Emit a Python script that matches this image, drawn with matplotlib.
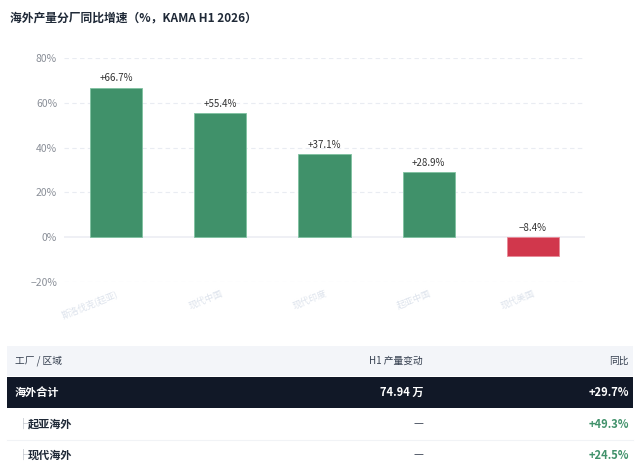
import numpy as np
import matplotlib.pyplot as plt
from matplotlib.patches import Rectangle

plt.rcParams['font.family'] = ['Noto Sans CJK SC', 'DejaVu Sans']

# data
factories = ['斯洛伐克(起亚)', '现代中国', '现代印度', '起亚中国', '现代美国']
growth = [66.7, 55.4, 37.1, 28.9, -8.4]
yticks = [-20, 0, 20, 40, 60, 80]

table_header = ['工厂 / 区域', 'H1 产量变动', '同比']
total_row = ['海外合计', '74.94 万', '+29.7%']
sub_rows = [['├ 起亚海外', '—', '+49.3%'],
            ['├ 现代海外', '—', '+24.5%']]

green = '#40916a'
red = '#d1374c'

fig = plt.figure(figsize=(6.4, 4.71), dpi=100)
W, H = 640, 471

def fx(px):
    return px / W

def fy(py):
    return 1 - py / H

fig.text(fx(10), fy(18), '海外产量分厂同比增速（%，KAMA H1 2026）',
         fontsize=8.5, fontweight='bold', color='#1f2937', va='center')

ax = fig.add_axes([fx(64), fy(282), fx(585) - fx(64), fy(58) - fy(282)])
x = np.arange(len(factories))
colors = [green if v >= 0 else red for v in growth]
ax.bar(x, growth, width=0.5, color=colors, edgecolor=['#7fc2a0' if v >= 0 else '#e88a97' for v in growth],
       linewidth=0.6, zorder=3)
for xi, v in zip(x, growth):
    lab = f'+{v:.1f}%' if v >= 0 else f'−{abs(v):.1f}%'
    ax.text(xi, max(v, 0) + 2.0, lab, ha='center', va='bottom', fontsize=7, color='#333333',
            fontweight='medium', zorder=4)

ax.set_xlim(-0.5, len(factories) - 0.5)
ax.set_ylim(-20, 80)
ax.set_yticks(yticks)
ax.set_yticklabels([f'{t}%' if t >= 0 else f'−{abs(t)}%' for t in yticks], fontsize=7.5, color='#8a8f98')
for t in yticks:
    if t == 0:
        ax.axhline(0, color='#eceef3', linewidth=1.2, zorder=1)
    else:
        ax.axhline(t, color='#e9ecf2', linewidth=0.8, linestyle=(0, (4, 3)), zorder=1)
ax.set_xticks(x)
ax.set_xticklabels(factories, rotation=22, ha='right', rotation_mode='anchor',
                   fontsize=6.5, color='#dde3ec')
ax.tick_params(axis='both', length=0, pad=5)
for s in ax.spines.values():
    s.set_visible(False)

# table
left, right = 7, 633
col1_x, col2_x, col3_x = 15, 423, 629
rows_y = [(346, 376), (377, 408), (408, 440), (440, 471)]

def add_rect(y0, y1, color):
    fig.patches.append(Rectangle((fx(left), fy(y1)), fx(right) - fx(left), fy(y0) - fy(y1),
                                 transform=fig.transFigure, facecolor=color, edgecolor='none', zorder=0))

add_rect(*rows_y[0], '#f3f5f9')
add_rect(*rows_y[1], '#111827')
fig.lines.append(plt.Line2D([fx(left), fx(right)], [fy(440), fy(440)], transform=fig.transFigure,
                            color='#f1f3f6', linewidth=0.8))

ymid = (rows_y[0][0] + rows_y[0][1]) / 2
fig.text(fx(col1_x), fy(ymid), table_header[0], fontsize=7, color='#374151', va='center', fontweight='medium')
fig.text(fx(col2_x), fy(ymid), table_header[1], fontsize=7, color='#374151', va='center', ha='right', fontweight='medium')
fig.text(fx(col3_x), fy(ymid), table_header[2], fontsize=7, color='#374151', va='center', ha='right', fontweight='medium')

ymid = (rows_y[1][0] + rows_y[1][1]) / 2
fig.text(fx(col1_x), fy(ymid), total_row[0], fontsize=8, color='white', va='center', fontweight='bold')
fig.text(fx(col2_x), fy(ymid), total_row[1], fontsize=8, color='white', va='center', ha='right', fontweight='bold')
fig.text(fx(col3_x), fy(ymid), total_row[2], fontsize=8, color='white', va='center', ha='right', fontweight='bold')

for (y0, y1), row in zip(rows_y[2:], sub_rows):
    ymid = (y0 + y1) / 2
    fig.text(fx(col1_x + 3), fy(ymid), row[0][0], fontsize=8, color='#9ca3af', va='center')
    fig.text(fx(col1_x + 13), fy(ymid), row[0][2:], fontsize=8, color='#1f2937', va='center', fontweight='bold')
    fig.text(fx(col2_x - 5), fy(ymid), row[1], fontsize=8, color='#374151', va='center', ha='center')
    fig.text(fx(col3_x), fy(ymid), row[2], fontsize=8, color=green, va='center', ha='right', fontweight='bold')

fig.savefig('out.png', dpi=100, facecolor='white')
